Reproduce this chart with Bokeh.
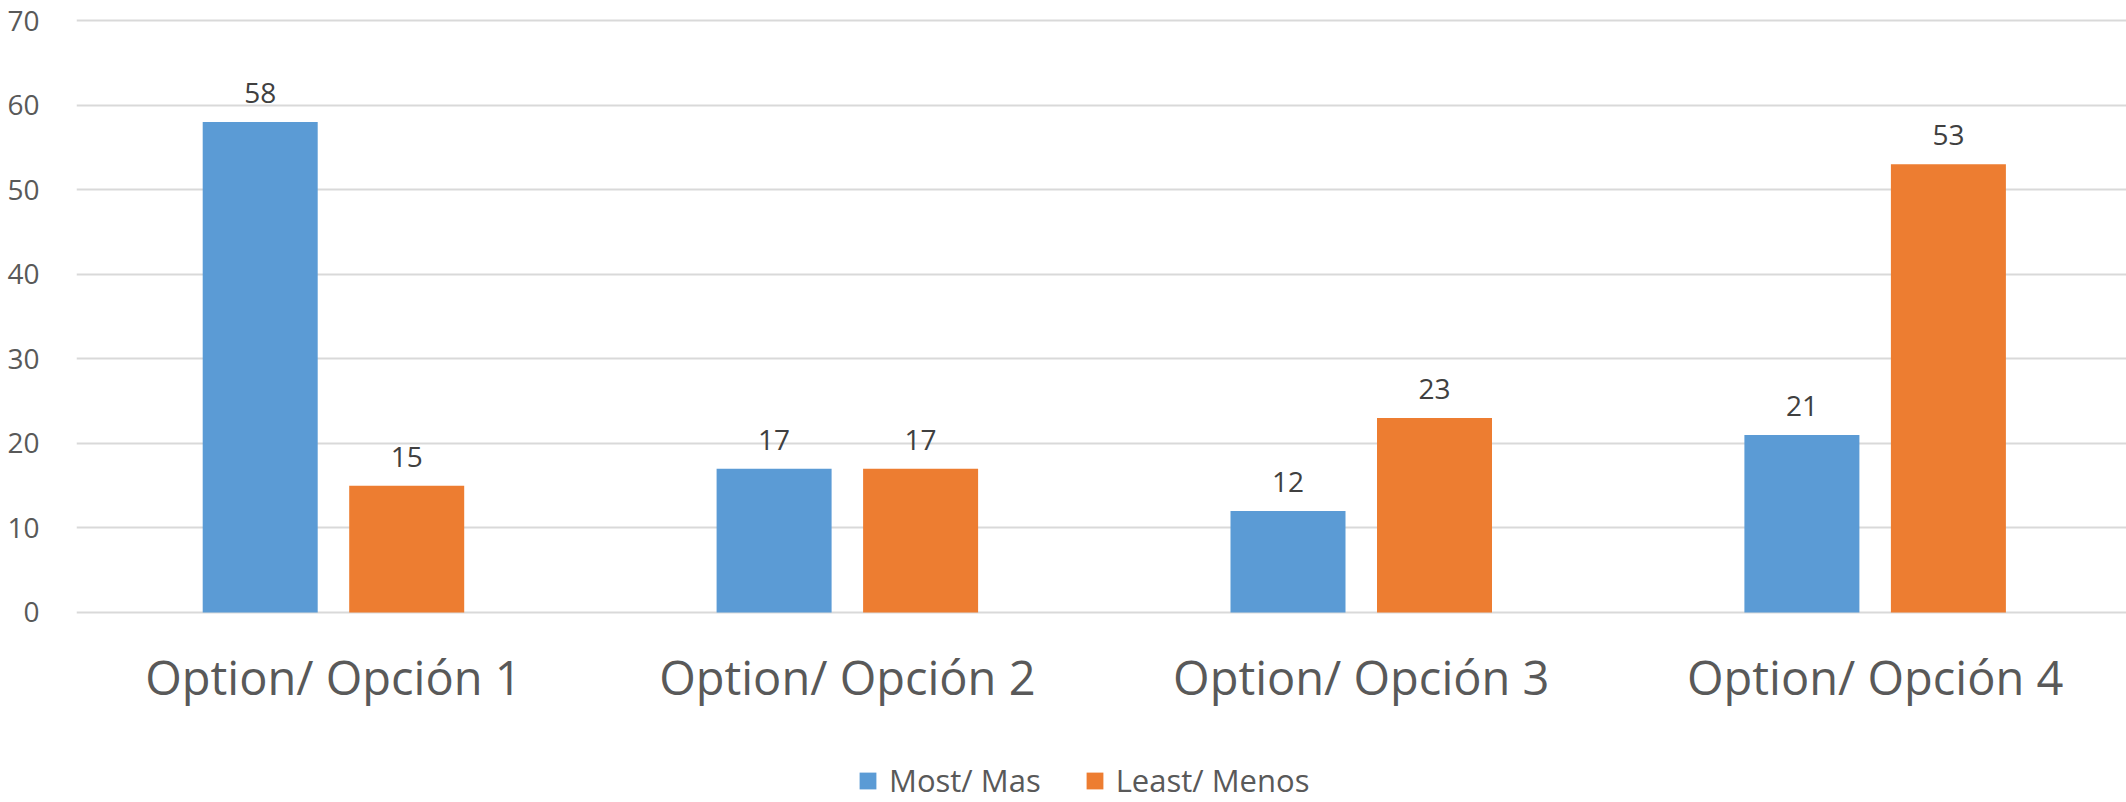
from bokeh.plotting import figure
from bokeh.models import ColumnDataSource, Range1d, FixedTicker, LabelSet, Legend, LegendItem
from bokeh.core.properties import value
from bokeh.embed import file_html
from bokeh.resources import INLINE

categories = ["Option/ Opción 1", "Option/ Opción 2", "Option/ Opción 3", "Option/ Opción 4"]
most = [58, 17, 12, 21]
least = [15, 17, 23, 53]
series_names = ["Most/ Mas", "Least/ Menos"]
y_ticks = [0, 10, 20, 30, 40, 50, 60, 70]

colors = ["#5B9BD5", "#ED7D31"]
FONT = "Open Sans"

W, H = 2126, 802
left, top = 76, 0
frame_w = W - left
frame_h = H - top
cat_px = 513.9
xmax = frame_w / cat_px
bar_w = 115 / cat_px
off = 73.25 / cat_px
px_per_unit = 8.457
y_end = 70 + 20 / px_per_unit
y_start = y_end - frame_h / px_per_unit
cat_label_y = -65 / px_per_unit

idx = [i + 0.5 for i in range(len(categories))]
src_m = ColumnDataSource(dict(x=[v - off for v in idx], top=most, lab=[str(v) for v in most]))
src_l = ColumnDataSource(dict(x=[v + off for v in idx], top=least, lab=[str(v) for v in least]))
src_c = ColumnDataSource(dict(x=idx, y=[cat_label_y] * len(idx), lab=categories))

p = figure(width=W, height=H, x_range=Range1d(0, xmax), y_range=Range1d(y_start, y_end),
           output_backend="svg", toolbar_location=None,
           min_border_left=left, min_border_top=top, min_border_bottom=0, min_border_right=0)
p.outline_line_color = None
p.background_fill_color = "white"
p.border_fill_color = "white"

r1 = p.vbar(x="x", top="top", bottom=0, width=bar_w, source=src_m, fill_color=colors[0], line_color=None)
r2 = p.vbar(x="x", top="top", bottom=0, width=bar_w, source=src_l, fill_color=colors[1], line_color=None)

for s in (src_m, src_l):
    p.add_layout(LabelSet(x="x", y="top", text="lab", source=s, y_offset=19, text_align="center",
                          text_baseline="alphabetic", text_font=value(FONT), text_font_size="28px",
                          text_color="#404040"))

p.text(x="x", y="y", text="lab", source=src_c, text_align="center", text_baseline="alphabetic",
       text_font=value(FONT), text_font_size="47px", text_color="#595959")

p.xgrid.grid_line_color = None
p.ygrid.ticker = FixedTicker(ticks=y_ticks)
p.ygrid.grid_line_color = "#d9d9d9"
p.ygrid.grid_line_width = 2

ya = p.yaxis[0]
ya.ticker = FixedTicker(ticks=y_ticks)
ya.axis_line_color = None
ya.major_tick_line_color = None
ya.minor_tick_line_color = None
ya.major_label_standoff = 31
ya.major_label_text_font = FONT
ya.major_label_text_font_size = "28px"
ya.major_label_text_color = "#595959"

p.xaxis.visible = False

legend = Legend(items=[LegendItem(label=series_names[0], renderers=[r1]),
                       LegendItem(label=series_names[1], renderers=[r2])],
                orientation="horizontal", location=(781, 1),
                glyph_width=21, glyph_height=21, label_height=21, label_standoff=11, spacing=43,
                label_text_font=FONT, label_text_font_size="31px", label_text_color="#595959",
                border_line_color=None, background_fill_alpha=0, padding=0, margin=0)
p.add_layout(legend, "center")

open("out.html", "w").write(file_html(p, INLINE))
